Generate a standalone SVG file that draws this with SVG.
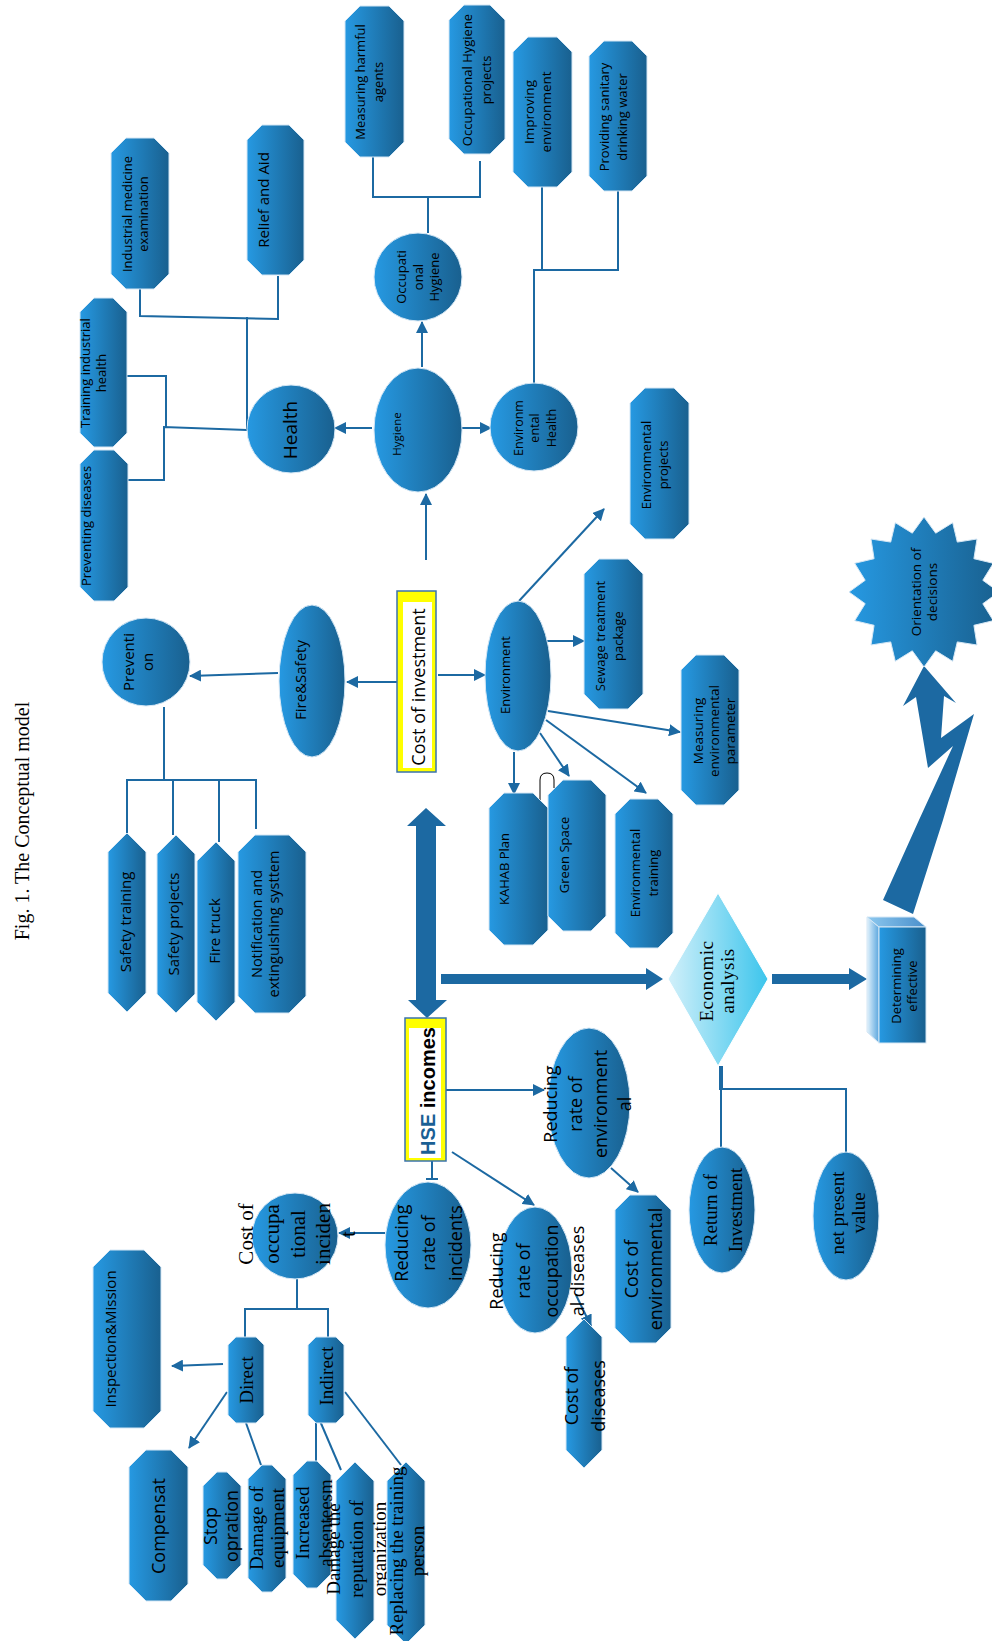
<svg xmlns="http://www.w3.org/2000/svg" width="992" height="1641" viewBox="0 0 992 1641">
<defs>
<linearGradient id="gb" x1="0" y1="0" x2="1" y2="0"><stop offset="0" stop-color="#2699e2"/><stop offset="1" stop-color="#19608f"/></linearGradient>
<linearGradient id="gd" x1="0" y1="0" x2="1" y2="0"><stop offset="0" stop-color="#d2f0fa"/><stop offset="1" stop-color="#3cc5ec"/></linearGradient>
<linearGradient id="gs" x1="0" y1="0" x2="1" y2="0"><stop offset="0" stop-color="#e2f2fc"/><stop offset="1" stop-color="#5aa6de"/></linearGradient>
<linearGradient id="gt" x1="0" y1="0" x2="1" y2="0"><stop offset="0" stop-color="#8cc8ef"/><stop offset="1" stop-color="#4a8fcb"/></linearGradient>
<marker id="ah" markerWidth="12" markerHeight="12" refX="11" refY="6" orient="auto" markerUnits="userSpaceOnUse"><path d="M0,0 L12,6 L0,12 z" fill="#1c69a2"/></marker>
</defs>
<style>
.n{fill:url(#gb);stroke:#d5e7f5;stroke-width:1}
.c{fill:none;stroke:#1c69a2;stroke-width:2}
.a{fill:none;stroke:#1c69a2;stroke-width:2;marker-end:url(#ah)}
.b{fill:#1c69a2;stroke:none}
.t{font-family:"Open Sans","DejaVu Sans",sans-serif;fill:#000;text-anchor:middle;dominant-baseline:central}
.r{font-family:"Liberation Serif","Times New Roman",serif;fill:#000;text-anchor:middle;dominant-baseline:central}
</style>
<rect width="992" height="1641" fill="#fff"/>

<text id="caption" class="r" font-size="20" transform="translate(0,821) rotate(-90)"><tspan x="0" y="22">Fig. 1. The Conceptual model</tspan></text>

<g id="connectors">
<!-- health tree -->
<polyline class="c" points="140,289 140,316 278,319 278,276"/>
<line class="c" x1="247" y1="317" x2="247" y2="430"/>
<polyline class="c" points="127,376 166,376 166,427"/>
<polyline class="c" points="128,480 164,480 164,427 247,430"/>
<!-- occupational hygiene tree -->
<polyline class="c" points="373,157 373,197 480,197 480,161"/>
<line class="c" x1="428" y1="197" x2="428" y2="233"/>
<!-- environmental health tree -->
<line class="c" x1="542" y1="187" x2="542" y2="270"/>
<polyline class="c" points="534,383 534,270 618,270 618,191"/>
<!-- prevention tree -->
<line class="c" x1="164" y1="707" x2="164" y2="780"/>
<polyline class="c" points="127,833 127,780 256,780 256,829"/>
<line class="c" x1="173" y1="780" x2="173" y2="835"/>
<line class="c" x1="219" y1="780" x2="219" y2="842"/>
<!-- arrows from cost of investment -->
<line class="a" x1="426" y1="560" x2="426" y2="494"/>
<line class="a" x1="397" y1="682" x2="347" y2="682"/>
<line class="a" x1="438" y1="675" x2="485" y2="675"/>
<line class="a" x1="278" y1="673" x2="190" y2="676"/>
<line class="a" x1="372" y1="428" x2="335" y2="428"/>
<line class="a" x1="448" y1="428" x2="491" y2="428"/>
<line class="a" x1="422" y1="367" x2="422" y2="322"/>
<!-- environment arrows -->
<line class="a" x1="519" y1="601" x2="604" y2="509"/>
<line class="a" x1="538" y1="641" x2="584" y2="641"/>
<line class="a" x1="548" y1="711" x2="680" y2="732"/>
<line class="a" x1="546" y1="720" x2="646" y2="793"/>
<line class="a" x1="540" y1="733" x2="569" y2="776"/>
<line class="a" x1="514" y1="752" x2="514" y2="794"/>
<path d="M540,800 V780 Q540,773 547,773 Q554,773 554,780 V788" fill="none" stroke="#000" stroke-width="1"/>
<!-- big arrows -->
<polygon class="b" points="426,808 446,826 436,826 436,1000 447,1000 427,1018 408,1000 416,1000 416,826 407,826"/>
<polygon class="b" points="441,974 646,974 646,968 663,979 646,990 646,984 441,984"/>
<polygon class="b" points="772,974 849,974 849,968 867,979 849,990 849,984 772,984"/>
<polygon class="b" points="924,666 956,703 944,696 941,738 974,714 943,820 913,914 883,900 919,820 953,746 928,768 916,697 903,706"/>
<!-- economic analysis tree -->
<line x1="721" y1="1066" x2="721" y2="1090" stroke="#1c69a2" stroke-width="4"/>
<polyline class="c" points="721,1147 721,1089 846,1089 846,1152"/>
<!-- HSE incomes arrows -->
<line class="c" x1="432" y1="1161" x2="432" y2="1179"/>
<line class="c" x1="426" y1="1179" x2="438" y2="1179"/>
<line class="a" x1="446" y1="1090" x2="544" y2="1090"/>
<line class="a" x1="611" y1="1168" x2="638" y2="1192"/>
<line class="a" x1="452" y1="1152" x2="534" y2="1205"/>
<line class="a" x1="576" y1="1295" x2="591" y2="1326"/>
<line class="a" x1="385" y1="1233" x2="339" y2="1233"/>
<!-- cost of occupational incidents tree -->
<line class="c" x1="297" y1="1279" x2="297" y2="1309"/>
<polyline class="c" points="245,1337 245,1309 328,1309 328,1337"/>
<line class="a" x1="223" y1="1364" x2="172" y2="1366"/>
<line class="a" x1="227" y1="1392" x2="189" y2="1448"/>
<line class="c" x1="246" y1="1423" x2="261" y2="1465"/>
<line class="c" x1="316" y1="1423" x2="316" y2="1461"/>
<line class="c" x1="320" y1="1421" x2="341" y2="1470"/>
<line class="c" x1="345" y1="1392" x2="401" y2="1465"/>
</g>

<g id="industrial-medicine"><polygon class="n" points="126,138 154,138 169,153 169,274 154,289 126,289 111,274 111,153"/>
<text class="t" font-size="13" transform="translate(0,214) rotate(-90)"><tspan x="0" y="127">Industrial medicine</tspan><tspan x="0" y="143">examination</tspan></text></g>
<g id="relief-aid"><polygon class="n" points="262,125 289,125 304,140 304,260 289,275 262,275 247,260 247,140"/>
<text class="t" font-size="15" transform="translate(0,200) rotate(-90)"><tspan x="0" y="263">Relief and Aid</tspan></text></g>
<g id="training-health"><polygon class="n" points="94,298 113,298 127,312 127,433 113,447 94,447 80,433 80,312"/>
<text class="t" font-size="13" transform="translate(0,373) rotate(-90)"><tspan x="0" y="85">Training industrial</tspan><tspan x="0" y="101">health</tspan></text></g>
<g id="preventing-diseases"><polygon class="n" points="94,450 114,450 128,464 128,587 114,601 94,601 80,587 80,464"/>
<text class="t" font-size="13" transform="translate(0,526) rotate(-90)"><tspan x="0" y="86">Preventing diseases</tspan></text></g>
<g id="health"><circle class="n" cx="291" cy="429" r="44"/>
<text class="t" font-size="19" transform="translate(0,430) rotate(-90)"><tspan x="0" y="290">Health</tspan></text></g>
<g id="hygiene"><ellipse class="n" cx="418" cy="430" rx="44" ry="62"/>
<text class="t" font-size="11.5" transform="translate(0,434) rotate(-90)"><tspan x="0" y="396">Hygiene</tspan></text></g>
<g id="environmental-health"><circle class="n" cx="534" cy="427" r="44"/>
<text class="t" font-size="12.5" transform="translate(0,428) rotate(-90)"><tspan x="0" y="518">Environm</tspan><tspan x="0" y="534">ental</tspan><tspan x="0" y="551">Health</tspan></text></g>
<g id="occupational-hygiene"><circle class="n" cx="418" cy="277" r="44"/>
<text class="t" font-size="13" transform="translate(0,277) rotate(-90)"><tspan x="0" y="401">Occupati</tspan><tspan x="0" y="418">onal</tspan><tspan x="0" y="434">Hygiene</tspan></text></g>
<g id="measuring-harmful"><polygon class="n" points="360,6 389,6 404,21 404,142 389,157 360,157 345,142 345,21"/>
<text class="t" font-size="13" transform="translate(0,82) rotate(-90)"><tspan x="0" y="360">Measuring harmful</tspan><tspan x="0" y="378">agents</tspan></text></g>
<g id="occ-hygiene-projects"><polygon class="n" points="464,5 490,5 505,20 505,139 490,154 464,154 449,139 449,20"/>
<text class="t" font-size="13" transform="translate(0,80) rotate(-90)"><tspan x="0" y="467">Occupational Hygiene</tspan><tspan x="0" y="486">projects</tspan></text></g>
<g id="improving-environment"><polygon class="n" points="528,37 557,37 572,52 572,172 557,187 528,187 513,172 513,52"/>
<text class="t" font-size="13.5" transform="translate(0,112) rotate(-90)"><tspan x="0" y="529">Improving</tspan><tspan x="0" y="546">environment</tspan></text></g>
<g id="providing-water"><polygon class="n" points="604,41 632,41 647,56 647,176 632,191 604,191 589,176 589,56"/>
<text class="t" font-size="13" transform="translate(0,117) rotate(-90)"><tspan x="0" y="604">Providing sanitary</tspan><tspan x="0" y="622">drinking water</tspan></text></g>
<g id="environmental-projects"><polygon class="n" points="645,388 674,388 689,403 689,524 674,539 645,539 630,524 630,403"/>
<text class="t" font-size="13" transform="translate(0,465) rotate(-90)"><tspan x="0" y="646">Environmental</tspan><tspan x="0" y="663">projects</tspan></text></g>
<g id="fire-safety"><ellipse class="n" cx="312" cy="681" rx="33" ry="76"/>
<text class="t" font-size="15" transform="translate(0,680) rotate(-90)"><tspan x="0" y="300">Fire&amp;Safety</tspan></text></g>
<g id="prevention"><circle class="n" cx="146" cy="662" r="44"/>
<text class="t" font-size="15" transform="translate(0,662) rotate(-90)"><tspan x="0" y="128">Preventi</tspan><tspan x="0" y="147">on</tspan></text></g>
<g id="cost-of-investment"><rect x="397" y="591" width="39" height="181" fill="#ffff00" stroke="#3a73ad" stroke-width="1.5"/><rect x="403" y="602" width="29" height="166" fill="#fff"/>
<text class="t" font-size="18" transform="translate(0,687) rotate(-90)"><tspan x="0" y="418">Cost of investment</tspan></text></g>
<g id="environment"><ellipse class="n" cx="518" cy="676" rx="33" ry="75"/>
<text class="t" font-size="13" transform="translate(0,675) rotate(-90)"><tspan x="0" y="505">Environment</tspan></text></g>
<g id="sewage"><polygon class="n" points="599,559 628,559 643,574 643,694 628,709 599,709 584,694 584,574"/>
<text class="t" font-size="13" transform="translate(0,636) rotate(-90)"><tspan x="0" y="600">Sewage treatment</tspan><tspan x="0" y="618">package</tspan></text></g>
<g id="measuring-parameter"><polygon class="n" points="696,655 724,655 739,670 739,790 724,805 696,805 681,790 681,670"/>
<text class="t" font-size="13.5" transform="translate(0,731) rotate(-90)"><tspan x="0" y="698">Measuring</tspan><tspan x="0" y="714">environmental</tspan><tspan x="0" y="730">parameter</tspan></text></g>
<g id="kahab"><polygon class="n" points="504,793 533,793 548,808 548,930 533,945 504,945 489,930 489,808"/>
<text class="t" font-size="13" transform="translate(0,869) rotate(-90)"><tspan x="0" y="504">KAHAB Plan</tspan></text></g>
<g id="green-space"><polygon class="n" points="563,780 591,780 606,795 606,916 591,931 563,931 548,916 548,795"/>
<text class="t" font-size="13" transform="translate(0,855) rotate(-90)"><tspan x="0" y="564">Green Space</tspan></text></g>
<g id="environmental-training"><polygon class="n" points="630,799 658,799 673,814 673,933 658,948 630,948 615,933 615,814"/>
<text class="t" font-size="13" transform="translate(0,873) rotate(-90)"><tspan x="0" y="635">Environmental</tspan><tspan x="0" y="653">training</tspan></text></g>
<g id="safety-training"><polygon class="n" points="127,833 146,852 146,993 127,1012 108,993 108,852"/>
<text class="t" font-size="15" transform="translate(0,922) rotate(-90)"><tspan x="0" y="125">Safety training</tspan></text></g>
<g id="safety-projects"><polygon class="n" points="176,835 195,854 195,994 176,1013 157,994 157,854"/>
<text class="t" font-size="15" transform="translate(0,924) rotate(-90)"><tspan x="0" y="173">Safety projects</tspan></text></g>
<g id="fire-truck"><polygon class="n" points="216,842 235,861 235,1002 216,1021 197,1002 197,861"/>
<text class="t" font-size="15" transform="translate(0,931) rotate(-90)"><tspan x="0" y="214">Fire truck</tspan></text></g>
<g id="notification"><polygon class="n" points="255,835 289,835 306,852 306,996 289,1013 255,1013 238,996 238,852"/>
<text class="t" font-size="14.5" transform="translate(0,924) rotate(-90)"><tspan x="0" y="256">Notification and</tspan><tspan x="0" y="273">extinguishing systtem</tspan></text></g>
<g id="hse-incomes"><rect x="405" y="1018" width="41" height="143" fill="#ffff00" stroke="#3a73ad" stroke-width="1.5"/><rect x="409" y="1028" width="32" height="130" fill="#fff"/>
<text class="t" font-size="20" font-weight="bold" style="font-family:'Liberation Sans',Arial,sans-serif" transform="translate(0,1091) rotate(-90)"><tspan x="0" y="428"><tspan fill="#1a5f94">HSE</tspan> incomes</tspan></text></g>
<g id="economic-analysis"><polygon points="718,893 768,979 718,1066 668,979" fill="url(#gd)" stroke="#fff" stroke-width="1"/>
<text class="r" font-size="19" letter-spacing="0.5" transform="translate(0,981) rotate(-90)"><tspan x="0" y="706">Economic</tspan><tspan x="0" y="727">analysis</tspan></text></g>
<g id="determining-effective"><polygon points="867,917 879,927 879,1043 867,1032" fill="url(#gs)" stroke="#d5e7f5"/><polygon points="867,917 914,917 926,927 879,927" fill="url(#gt)" stroke="#d5e7f5"/><rect class="n" x="879" y="927" width="47" height="116"/>
<text class="t" font-size="13" transform="translate(0,986) rotate(-90)"><tspan x="0" y="896">Determining</tspan><tspan x="0" y="912">effective</tspan></text></g>
<g id="orientation"><polygon class="n" points="924,517 935.7,533.2 952.7,522.7 957.3,542.1 977,539 973.9,558.7 993.3,563.3 982.8,580.3 999,592 982.8,603.7 993.3,620.7 973.9,625.3 977,645 957.3,641.9 952.7,661.3 935.7,650.8 924,667 912.3,650.8 895.3,661.3 890.7,641.9 871,645 874.1,625.3 854.7,620.7 865.2,603.7 849,592 865.2,580.3 854.7,563.3 874.1,558.7 871,539 890.7,542.1 895.3,522.7 912.3,533.2"/>
<text class="t" font-size="13.5" transform="translate(0,592) rotate(-90)"><tspan x="0" y="916">Orientation of</tspan><tspan x="0" y="932">decisions</tspan></text></g>
<g id="reducing-environmental"><ellipse class="n" cx="589" cy="1103" rx="41" ry="75"/>
<text class="t" font-size="18" transform="translate(0,1104) rotate(-90)"><tspan x="0" y="550">Reducing</tspan><tspan x="0" y="575">rate of</tspan><tspan x="0" y="600">environment</tspan><tspan x="0" y="624">al</tspan></text></g>
<g id="cost-environmental"><polygon class="n" points="630,1195 656,1195 671,1210 671,1328 656,1343 630,1343 615,1328 615,1210"/>
<text class="t" font-size="18" transform="translate(0,1269) rotate(-90)"><tspan x="0" y="631">Cost of</tspan><tspan x="0" y="655">environmental</tspan></text></g>
<g id="reducing-incidents"><ellipse class="n" cx="428" cy="1245" rx="43" ry="63"/>
<text class="t" font-size="18" transform="translate(0,1243) rotate(-90)"><tspan x="0" y="401">Reducing</tspan><tspan x="0" y="428">rate of</tspan><tspan x="0" y="455">incidents</tspan></text></g>
<g id="reducing-occupational"><ellipse class="n" cx="535" cy="1270" rx="37" ry="63"/>
<text class="t" font-size="18" transform="translate(0,1271) rotate(-90)"><tspan x="0" y="496">Reducing</tspan><tspan x="0" y="523">rate of</tspan><tspan x="0" y="551">occupation</tspan><tspan x="0" y="577">al diseases</tspan></text></g>
<g id="cost-diseases"><polygon class="n" points="584,1319 602,1337 602,1450 584,1468 566,1450 566,1337"/>
<text class="t" font-size="18" transform="translate(0,1396) rotate(-90)"><tspan x="0" y="571">Cost of</tspan><tspan x="0" y="598">diseases</tspan></text></g>
<g id="cost-occupational-incidents"><circle class="n" cx="295" cy="1236" r="43"/>
<text class="r" font-size="21" transform="translate(0,1234) rotate(-90)"><tspan x="0" y="246">Cost of</tspan><tspan x="0" y="272">occupa</tspan><tspan x="0" y="298">tional</tspan><tspan x="0" y="323">inciden</tspan><tspan x="0" y="348">t</tspan></text></g>
<g id="direct"><polygon class="n" points="236,1337 256,1337 264,1345 264,1415 256,1423 236,1423 228,1415 228,1345"/>
<text class="r" font-size="19" transform="translate(0,1380) rotate(-90)"><tspan x="0" y="246">Direct</tspan></text></g>
<g id="indirect"><polygon class="n" points="316,1337 336,1337 344,1345 344,1415 336,1423 316,1423 308,1415 308,1345"/>
<text class="r" font-size="19" transform="translate(0,1376) rotate(-90)"><tspan x="0" y="326">Indirect</tspan></text></g>
<g id="inspection-mission"><polygon class="n" points="110,1250 144,1250 161,1267 161,1411 144,1428 110,1428 93,1411 93,1267"/>
<text class="t" font-size="15" transform="translate(0,1339) rotate(-90)"><tspan x="0" y="110">Inspection&amp;Mission</tspan></text></g>
<g id="compensat"><polygon class="n" points="146,1450 171,1450 188,1467 188,1584 171,1601 146,1601 129,1584 129,1467"/>
<text class="t" font-size="18" transform="translate(0,1526) rotate(-90)"><tspan x="0" y="158">Compensat</tspan></text></g>
<g id="stop-operation"><polygon class="n" points="217,1472 227,1472 241,1486 241,1565 227,1579 217,1579 203,1565 203,1486"/>
<text class="t" font-size="18" transform="translate(0,1526) rotate(-90)"><tspan x="0" y="210">Stop</tspan><tspan x="0" y="231">opration</tspan></text></g>
<g id="damage-equipment"><polygon class="n" points="262,1465 272,1465 286,1479 286,1578 272,1592 262,1592 248,1578 248,1479"/>
<text class="r" font-size="19" transform="translate(0,1528) rotate(-90)"><tspan x="0" y="256">Damage of</tspan><tspan x="0" y="277">equipment</tspan></text></g>
<g id="increased-absenteeism"><polygon class="n" points="307,1461 317,1461 331,1475 331,1574 317,1588 307,1588 293,1574 293,1475"/>
<text class="r" font-size="19" transform="translate(0,1523) rotate(-90)"><tspan x="0" y="302">Increased</tspan><tspan x="0" y="325">absenteesm</tspan></text></g>
<g id="damage-reputation"><polygon class="n" points="355,1462 374,1481 374,1620 355,1639 336,1620 336,1481"/>
<text class="r" font-size="19" transform="translate(0,1549) rotate(-90)"><tspan x="0" y="333">Damage the</tspan><tspan x="0" y="356">reputation of</tspan><tspan x="0" y="379">organization</tspan></text></g>
<g id="replacing-training"><polygon class="n" points="406,1462 425,1481 425,1625 406,1644 387,1625 387,1481"/>
<text class="r" font-size="19" transform="translate(0,1551) rotate(-90)"><tspan x="0" y="396">Replacing the training</tspan><tspan x="0" y="417">person</tspan></text></g>
<g id="return-of-investment"><ellipse class="n" cx="722" cy="1210" rx="33" ry="63"/>
<text class="r" font-size="19" transform="translate(0,1210) rotate(-90)"><tspan x="0" y="710">Return of</tspan><tspan x="0" y="735">Investment</tspan></text></g>
<g id="net-present-value"><ellipse class="n" cx="846" cy="1216" rx="33" ry="64"/>
<text class="r" font-size="19" transform="translate(0,1213) rotate(-90)"><tspan x="0" y="837">net present</tspan><tspan x="0" y="858">value</tspan></text></g>
</svg>
